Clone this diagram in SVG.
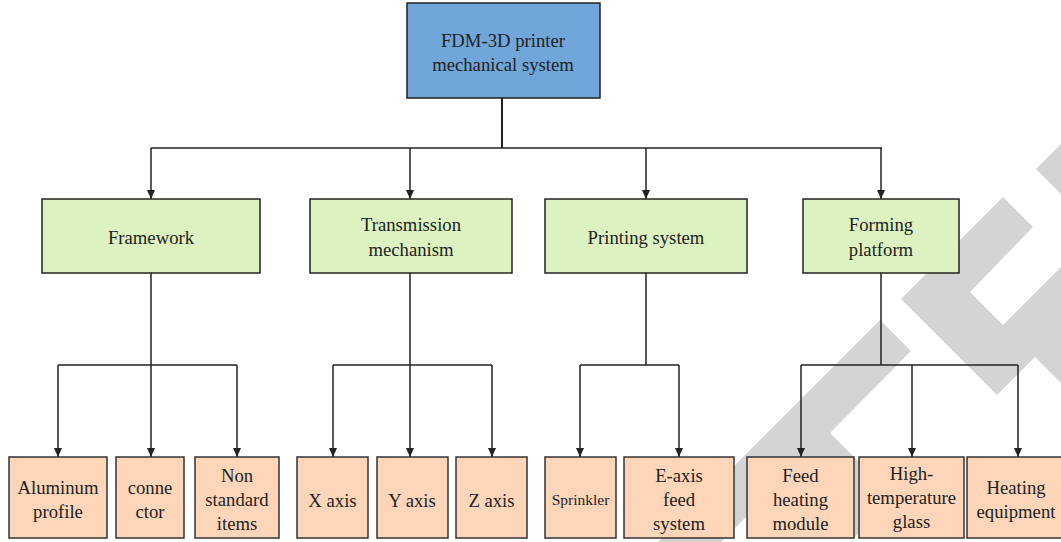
<svg xmlns="http://www.w3.org/2000/svg" width="1061" height="542" viewBox="0 0 1061 542">
<style>
.wm{fill:#d4d4d4;stroke:none}
.top{fill:#70a6d9;stroke:#222;stroke-width:1.5}
.l2{fill:#dcf3c1;stroke:#222;stroke-width:1.5}
.l3{fill:#fdd6ba;stroke:#333;stroke-width:1.5}
text{font-family:"Liberation Serif","Times New Roman",serif;font-size:18.7px;fill:#222;text-anchor:middle}
.sm{font-size:15.5px}
.c{fill:none;stroke:#222;stroke-width:1.5}
.arr{marker-end:url(#ah)}
</style>
<defs>
<marker id="ah" markerWidth="8" markerHeight="9" refX="4" refY="9" orient="0" markerUnits="userSpaceOnUse" viewBox="0 0 8 9">
<path d="M0,0 L8,0 L4,9 Z" fill="#222"/>
</marker>
</defs>
<g id="watermark">
<polygon class="wm" points="1036,169 1061,144 1061,194"/>
<polygon class="wm" points="1003,197 1033,227 970,292 1003,325 1061,267 1061,383 1035,357 997,395 901,299"/>
<polygon class="wm" points="880,320 911,351 830,433 894.5,497.5 853,539 788.5,474.5 721,542 658,542"/>
</g>
<g id="connectors">
<path class="c" d="M502,98 V148" style="stroke-width:2"/>
<path class="c" d="M151,148 H882"/>
<path class="c arr" d="M151,148 V199"/>
<path class="c arr" d="M410,148 V199"/>
<path class="c arr" d="M646,148 V199"/>
<path class="c arr" d="M881,148 V199"/>
<path class="c" d="M151,273 V365 M58,365 H237"/>
<path class="c arr" d="M58,365 V457"/>
<path class="c arr" d="M151,365 V457"/>
<path class="c arr" d="M237,365 V457"/>
<path class="c" d="M410,273 V365 M333,365 H492"/>
<path class="c arr" d="M333,365 V457"/>
<path class="c arr" d="M410,365 V457"/>
<path class="c arr" d="M492,365 V457"/>
<path class="c" d="M646,273 V365 M580,365 H679"/>
<path class="c arr" d="M580,365 V457"/>
<path class="c arr" d="M679,365 V457"/>
<path class="c" d="M881,273 V365 M801,365 H1018"/>
<path class="c arr" d="M801,365 V457"/>
<path class="c arr" d="M912,365 V457"/>
<path class="c arr" d="M1018,365 V457"/>
</g>
<g id="n-root"><rect class="top" x="407" y="3" width="193" height="95"/><text x="503" y="47">FDM-3D printer</text><text x="503" y="71">mechanical system</text></g>
<g id="n-framework"><rect class="l2" x="42" y="199" width="218" height="74"/><text x="151" y="244">Framework</text></g>
<g id="n-transmission"><rect class="l2" x="310" y="199" width="202" height="74"/><text x="411" y="231">Transmission</text><text x="411" y="256">mechanism</text></g>
<g id="n-printing"><rect class="l2" x="545" y="199" width="202" height="74"/><text x="646" y="244">Printing system</text></g>
<g id="n-forming"><rect class="l2" x="803" y="199" width="156" height="74"/><text x="881" y="231">Forming</text><text x="881" y="256">platform</text></g>
<g id="n-aluminum"><rect class="l3" x="9" y="457" width="98" height="81"/><text x="58" y="494">Aluminum</text><text x="58" y="518">profile</text></g>
<g id="n-connector"><rect class="l3" x="116" y="457" width="68" height="81"/><text x="150" y="494">conne</text><text x="150" y="518">ctor</text></g>
<g id="n-nonstandard"><rect class="l3" x="195" y="457" width="84" height="81"/><text x="237" y="482">Non</text><text x="237" y="506">standard</text><text x="237" y="530">items</text></g>
<g id="n-xaxis"><rect class="l3" x="297" y="457" width="71" height="81"/><text x="332.5" y="507">X axis</text></g>
<g id="n-yaxis"><rect class="l3" x="377" y="457" width="71" height="81"/><text x="412" y="507">Y axis</text></g>
<g id="n-zaxis"><rect class="l3" x="456" y="457" width="71" height="81"/><text x="491.5" y="507">Z axis</text></g>
<g id="n-sprinkler"><rect class="l3" x="545" y="457" width="71" height="81"/><text class="sm" x="580.5" y="505">Sprinkler</text></g>
<g id="n-eaxis"><rect class="l3" x="624" y="457" width="110" height="81"/><text x="679" y="482">E-axis</text><text x="679" y="506">feed</text><text x="679" y="530">system</text></g>
<g id="n-feed"><rect class="l3" x="747" y="457" width="107" height="81"/><text x="800.5" y="482">Feed</text><text x="800.5" y="506">heating</text><text x="800.5" y="530">module</text></g>
<g id="n-glass"><rect class="l3" x="859" y="457" width="105" height="81"/><text x="911.5" y="480">High-</text><text x="911.5" y="504">temperature</text><text x="911.5" y="528">glass</text></g>
<g id="n-heating"><rect class="l3" x="967" y="457" width="100" height="81"/><text x="1016" y="494">Heating</text><text x="1016" y="518">equipment</text></g>
</svg>
